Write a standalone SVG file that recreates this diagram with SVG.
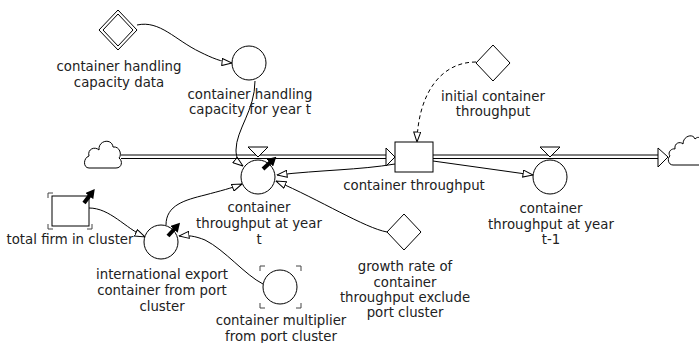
<svg xmlns="http://www.w3.org/2000/svg" width="699" height="343" viewBox="0 0 699 343">
<defs>
<style>
.lbl{font-family:"DejaVu Sans","Verdana",sans-serif;font-size:13.3px;fill:#222;text-anchor:middle}
.sh{fill:#fff;stroke:#000;stroke-width:1}
.cn{fill:none;stroke:#000;stroke-width:1;marker-end:url(#ah)}
.pipe{fill:none;stroke:#000;stroke-width:1}
.br{fill:none;stroke:#444;stroke-width:1}
.thick{fill:none;stroke:#000;stroke-width:4;marker-end:url(#th)}
</style>
<marker id="ah" viewBox="0 0 11 8" refX="10.5" refY="4" markerWidth="11" markerHeight="8" markerUnits="userSpaceOnUse" orient="auto"><path d="M0.5,0.5 L10.5,4 L0.5,7.5 Z" fill="#fff" stroke="#000" stroke-width="1"/></marker>
<marker id="th" viewBox="0 0 9 10" refX="2" refY="5" markerWidth="9" markerHeight="10" markerUnits="userSpaceOnUse" orient="auto"><path d="M0,0 L9,5 L0,10 Z" fill="#000"/></marker>
</defs>
<rect width="699" height="343" fill="#fff"/>

<g id="connectors">
<path class="cn" d="M137,25 C160,20 175,40 200,52 C212,58 222,62 232,63"/>
<path class="cn" d="M255,81 C255,110 236,130 236,150 C236,158 239,163 243,166"/>
<path class="cn" d="M476,62 C440,62 418,95 417,142" stroke-dasharray="4,3"/>
<path class="cn" d="M395,164 C360,170 320,170 277,175"/>
<path class="cn" d="M433,161 L533,175"/>
<path class="cn" d="M387,232 C365,228 320,200 276,181"/>
<path class="cn" d="M89,208 C110,208 125,228 145,237"/>
<path class="cn" d="M166,225 C166,205 185,200 205,195 C220,191 232,188 242,184"/>
<path class="cn" d="M263,284 C245,275 225,250 205,240 C195,236 188,235 179,236"/>
</g>

<g id="flow-left">
<path class="pipe" d="M121,155 H386 M121,158.5 H386"/>
<polygon class="sh" points="386,148 395,157 386,166"/>
</g>

<g id="flow-right">
<path class="pipe" d="M433,155 H658 M433,158.5 H658"/>
<polygon class="sh" points="658,148 668,157 658,167"/>
</g>

<g id="cloud-left">
<path class="sh" d="M89,168 C83,168 83,158 89,156 C87,149 95,146 99,150 C98,140 112,138 113,147 C120,146 122,155 119,158 C123,161 122,168 116,168 Z"/>
</g>

<g id="cloud-right">
<path class="sh" d="M699,165 H673 C668,165 667,158 670,156 C667,152 672,148 675,149 C674,143 680,141 683,144 C683,136 693,133 695,139 C697,137 699,137 699,138"/>
</g>

<g id="container-handling-capacity-data">
<polygon class="sh" points="118,10 137,30 118,50 99,30"/>
<polygon class="sh" points="118,14 133,30 118,46 103,30"/>
<text class="lbl" x="119" y="71">container handling</text>
<text class="lbl" x="119" y="87">capacity data</text>
</g>

<g id="container-handling-capacity-for-year-t">
<circle class="sh" cx="249" cy="63" r="17"/>
<text class="lbl" x="250" y="99">container handling</text>
<text class="lbl" x="250" y="114">capacity for year t</text>
</g>

<g id="initial-container-throughput">
<polygon class="sh" points="493,45 510,63 493,81 476,63"/>
<text class="lbl" x="493" y="101">initial container</text>
<text class="lbl" x="493" y="116">throughput</text>
</g>

<g id="container-throughput">
<rect class="sh" x="395" y="142" width="38" height="30"/>
<text class="lbl" x="414" y="190">container throughput</text>
</g>

<g id="container-throughput-at-year-t">
<polygon class="sh" points="248,147 268,147 258,157"/>
<circle class="sh" cx="258" cy="177" r="17"/>
<path class="thick" d="M263,169 L271.2,161.5"/>
<text class="lbl" x="259" y="212">container</text>
<text class="lbl" x="259" y="228">throughput at year</text>
<text class="lbl" x="259" y="244">t</text>
</g>

<g id="container-throughput-at-year-t-1">
<polygon class="sh" points="540,147 560,147 550,157"/>
<circle class="sh" cx="550" cy="177" r="17"/>
<text class="lbl" x="551" y="213">container</text>
<text class="lbl" x="551" y="229">throughput at year</text>
<text class="lbl" x="551" y="244">t-1</text>
</g>

<g id="growth-rate">
<polygon class="sh" points="404,214 421,232 404,250 387,232"/>
<text class="lbl" x="405" y="271">growth rate of</text>
<text class="lbl" x="405" y="287">container</text>
<text class="lbl" x="405" y="302">throughput exclude</text>
<text class="lbl" x="405" y="317">port cluster</text>
</g>

<g id="total-firm-in-cluster">
<rect class="sh" x="52" y="196" width="37" height="30"/>
<path class="br" d="M48,198 V193 H53 M87,193 H92 V198 M92,224 V229 H87 M53,229 H48 V224"/>
<path class="thick" d="M84,203 L90.5,194.5"/>
<text class="lbl" x="70" y="244">total firm in cluster</text>
</g>

<g id="international-export">
<circle class="sh" cx="161" cy="242" r="17"/>
<path class="thick" d="M168,236 L175.3,228"/>
<text class="lbl" x="162" y="279">international export</text>
<text class="lbl" x="162" y="295">container from port</text>
<text class="lbl" x="162" y="311">cluster</text>
</g>

<g id="container-multiplier">
<circle class="sh" cx="280" cy="287" r="17"/>
<path class="br" d="M260,271 V266 H265 M296,266 H301 V271 M301,303 V308 H296 M265,308 H260 V303"/>
<text class="lbl" x="281" y="325">container multiplier</text>
<text class="lbl" x="281" y="341">from port cluster</text>
</g>
</svg>
